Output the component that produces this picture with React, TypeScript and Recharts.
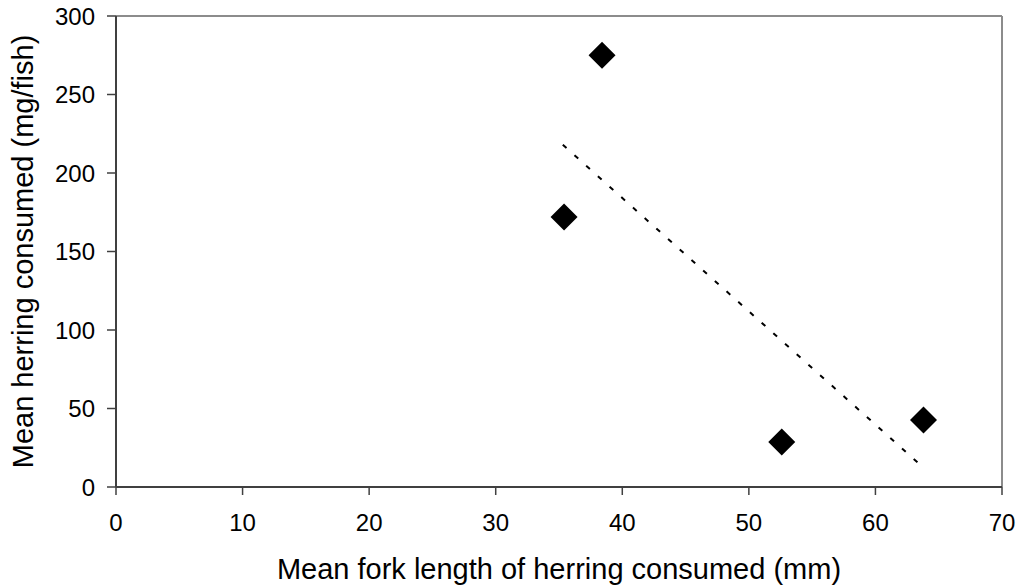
import React from 'react';
import { ScatterChart, Scatter, XAxis, YAxis, ReferenceLine } from 'recharts';

const xTicks = [0, 10, 20, 30, 40, 50, 60, 70];
const yTicks = [0, 50, 100, 150, 200, 250, 300];
const forkLengthMm = [35.4, 38.4, 52.6, 63.8];
const herringMgPerFish = [172, 275, 28.7, 42.7];
const trendX = [35.3, 63.7];
const trendY = [218, 13];

const xTitle = 'Mean fork length of herring consumed (mm)';
const yTitle = 'Mean herring consumed (mg/fish)';

const FONT = '"Liberation Sans", Arial, sans-serif';

const points = forkLengthMm.map((x, i) => ({ x, y: herringMgPerFish[i] }));
const trend = trendX.map((x, i) => ({ x, y: trendY[i] }));

const Diamond = (props: any) => {
  const { cx, cy } = props;
  const r = 13.5;
  return (
    <path
      d={`M${cx},${cy - r}L${cx + r},${cy}L${cx},${cy + r}L${cx - r},${cy}Z`}
      fill="#000"
    />
  );
};

const XTitle = (props: any) => {
  const vb = props.viewBox || {};
  const cx = vb.x + vb.width / 2;
  const y = vb.y + vb.height - 9;
  return (
    <text x={cx} y={y} textAnchor="middle" fontSize={29} fontFamily={FONT} fill="#000">
      {xTitle}
    </text>
  );
};

const YTitle = (props: any) => {
  const vb = props.viewBox || {};
  const x = vb.x + 33;
  const cy = vb.y + vb.height / 2;
  return (
    <text
      x={x}
      y={cy}
      textAnchor="middle"
      fontSize={29}
      fontFamily={FONT}
      fill="#000"
      transform={`rotate(-90, ${x}, ${cy})`}
    >
      {yTitle}
    </text>
  );
};

export default function App() {
  return (
    <div style={{ position: 'absolute', left: 0, top: 0, width: 1020, height: 588, background: '#fff' }}>
      <ScatterChart width={1020} height={588} margin={{ top: 16, right: 18, bottom: 0, left: 0 }}>
        <XAxis
          type="number"
          dataKey="x"
          domain={[0, 70]}
          ticks={xTicks}
          interval={0}
          height={101}
          tickSize={8}
          tickMargin={19}
          axisLine={{ stroke: '#404040', strokeWidth: 2 }}
          tickLine={{ stroke: '#404040', strokeWidth: 1.5 }}
          tick={{ fill: '#000', fontSize: 24, fontFamily: FONT }}
          label={<XTitle />}
        />
        <YAxis
          type="number"
          dataKey="y"
          domain={[0, 300]}
          ticks={yTicks}
          interval={0}
          width={116}
          tickSize={9}
          tickMargin={12}
          axisLine={{ stroke: '#404040', strokeWidth: 2 }}
          tickLine={{ stroke: '#404040', strokeWidth: 1.5 }}
          tick={{ fill: '#000', fontSize: 24, fontFamily: FONT }}
          label={<YTitle />}
        />
        <ReferenceLine y={300} stroke="#8c8c8c" strokeWidth={2} />
        <ReferenceLine x={70} stroke="#8c8c8c" strokeWidth={2} />
        <Scatter
          data={trend}
          line={{ stroke: '#000', strokeWidth: 2, strokeDasharray: '5 10.7' }}
          shape={() => <g />}
          isAnimationActive={false}
        />
        <Scatter data={points} shape={Diamond} isAnimationActive={false} />
      </ScatterChart>
    </div>
  );
}
